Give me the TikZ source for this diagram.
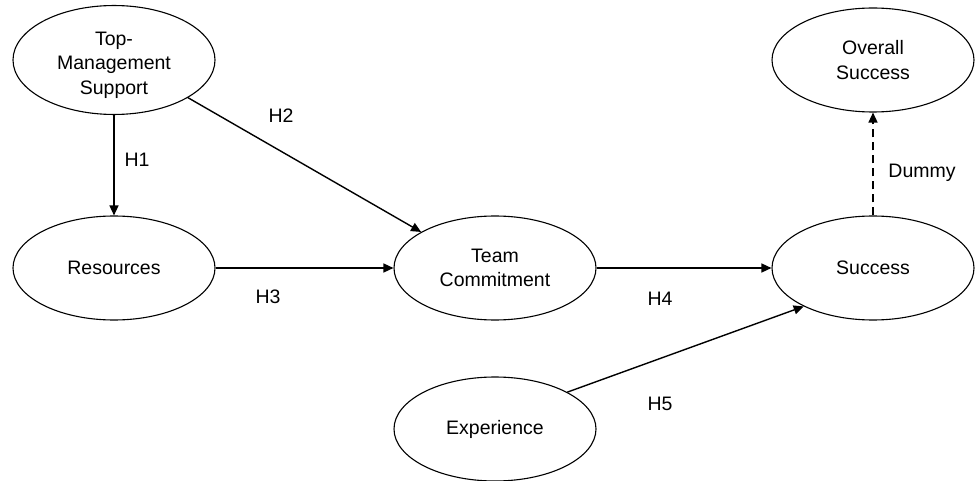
\documentclass[tikz,border=0pt]{standalone}
\usepackage{fontspec}
\setmainfont{Liberation Sans}
\usetikzlibrary{arrows.meta, shapes.geometric}
\tikzset{
  construct/.style = {ellipse, draw, line width=1.1pt, minimum width=202pt,
                      minimum height=104pt, inner sep=0pt, align=center},
  path/.style      = {-{Triangle[length=10pt, width=9pt]}, line width=1.4pt},
  dummypath/.style = {path, dashed, dash pattern=on 8pt off 5pt},
  hyp/.style       = {inner sep=0pt},
}
\begin{document}
\begin{tikzpicture}[x=1pt, y=-1pt,
  font=\fontsize{19.5}{24.5}\selectfont]
  \useasboundingbox (0,0) rectangle (977,481);
  \node[construct, text height=73pt] (tms) at (114, 60) {Top-\\Management\\Support};
  \node[construct] (res)     at (114,268)  {Resources};
  \node[construct] (team)    at (495,268)  {Team\\Commitment};
  \node[construct] (exper)   at (495,429)  {Experience};
  \node[construct] (success) at (873,268)  {Success};
  \node[construct] (overall) at (873, 60)  {Overall\\Success};
  \draw[path] (tms) -- (res);
  \draw[path] (tms.333) -- (team.154);
  \draw[path] (res) -- (team);
  \draw[path] (team) -- (success);
  \draw[path] (exper.27) -- (success.209);
  \draw[dummypath] (success) -- (overall);
  \node[hyp] (h1) at (137,160) {H1};
  \node[hyp] (h2) at (281,116) {H2};
  \node[hyp] (h3) at (268,297) {H3};
  \node[hyp] (h4) at (660,299) {H4};
  \node[hyp] (h5) at (660,404) {H5};
  \node[hyp] (dummy) at (922,173) {Dummy};
\end{tikzpicture}
\end{document}
